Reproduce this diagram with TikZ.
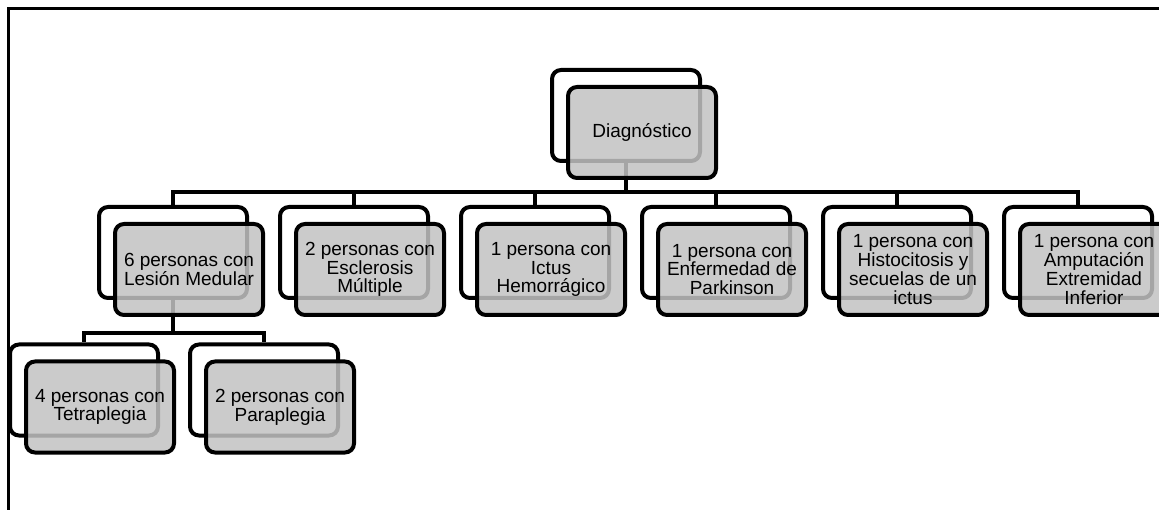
\documentclass[tikz,border=0pt]{standalone}
\usepackage{fontspec}
\setmainfont{Liberation Sans}
\begin{document}
\begin{tikzpicture}[x=1pt,y=-1pt,
  back/.style={draw, line width=4pt, rounded corners=9pt, minimum width=148pt, minimum height=91pt, fill=white},
  front/.style={back, fill=black!24, fill opacity=0.85, text opacity=1, align=center, inner sep=1pt, font=\fontsize{19}{18.8}\selectfont},
  conn/.style={line width=4pt}]
\clip (0,0) rectangle (1159,510);
% frame
\draw[line width=3pt] (1170,9) -| (8,520);

% back boxes
\node[back] (diagB) at (626,115.5) {};
\node[back] (lesB) at (173,252.5) {};
\node[back] (escB) at (354,252.5) {};
\node[back] (ictB) at (535,252.5) {};
\node[back] (parkB) at (716,252.5) {};
\node[back] (histB) at (897,252.5) {};
\node[back] (ampB) at (1078,252.5) {};
\node[back] (tetB) at (84,390) {};
\node[back] (parB) at (264,390) {};

% connectors
\coordinate (top) at (626,192);
\draw[conn] (diagB.south) -- (top);
\foreach \b in {lesB,escB,ictB,parkB,histB,ampB}
  \draw[conn] (top) -| (\b.north);
\coordinate (low) at (173,333);
\draw[conn] (lesB.south) -- (low);
\foreach \b in {tetB,parB}
  \draw[conn] (low) -| (\b.north);

% front boxes
\node[front] (diag) at (642,132.5) {Diagnóstico};
\node[front] (les) at (189,269.5) {6 personas con\\Lesión Medular};
\node[front] (esc) at (370,269.5) {2 personas con\\Esclerosis\\Múltiple};
\node[front] (ict) at (551,269.5) {1 persona con\\Ictus\\Hemorrágico};
\node[front] (park) at (732,269.5) {1 persona con\\Enfermedad de\\Parkinson};
\node[front] (hist) at (913,269.5) {1 persona con\\Histocitosis y\\secuelas de un\\ictus};
\node[front] (amp) at (1094,269.5) {1 persona con\\Amputación\\Extremidad\\Inferior};
\node[front] (tet) at (100,407) {4 personas con\\Tetraplegia};
\node[front] (par) at (280,407) {2 personas con\\Paraplegia};

\end{tikzpicture}
\end{document}
